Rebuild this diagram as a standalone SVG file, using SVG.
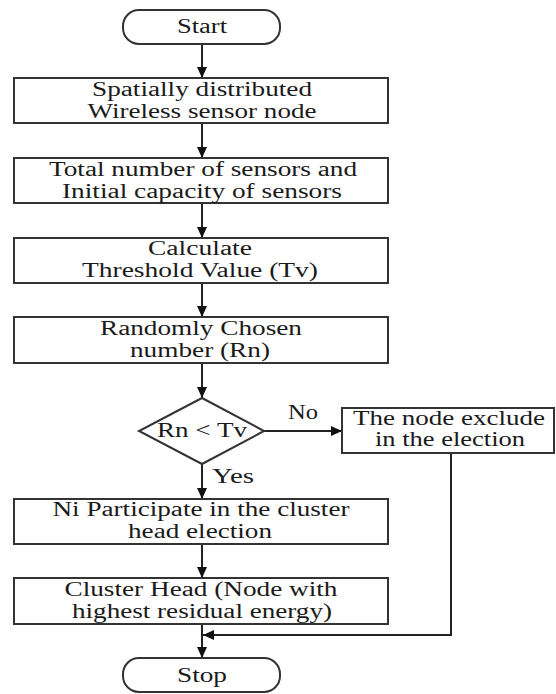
<svg xmlns="http://www.w3.org/2000/svg" width="556" height="694" viewBox="0 0 556 694">
<style>
.box{fill:#fff;stroke:#333;stroke-width:2}
.t{font-family:"Liberation Serif","Times New Roman",serif;font-size:20px;fill:#1a1a1a;text-anchor:middle}
.c{fill:none;stroke:#222;stroke-width:2}
</style>
<defs>
<marker id="ah" markerWidth="11" markerHeight="10" refX="11" refY="5" orient="auto" markerUnits="userSpaceOnUse">
<path d="M0,0 L11,5 L0,10 z" fill="#111"/>
</marker>
</defs>
<rect width="556" height="694" fill="#fff"/>
<g id="connectors">
<line class="c" x1="202" y1="44" x2="202" y2="78" marker-end="url(#ah)"/>
<line class="c" x1="202" y1="123" x2="202" y2="158" marker-end="url(#ah)"/>
<line class="c" x1="202" y1="203" x2="202" y2="238" marker-end="url(#ah)"/>
<line class="c" x1="202" y1="283" x2="202" y2="317" marker-end="url(#ah)"/>
<line class="c" x1="202" y1="363" x2="202" y2="398" marker-end="url(#ah)"/>
<line class="c" x1="202" y1="464" x2="202" y2="499" marker-end="url(#ah)"/>
<line class="c" x1="264" y1="431" x2="342" y2="431" marker-end="url(#ah)"/>
<line class="c" x1="202" y1="544" x2="202" y2="578" marker-end="url(#ah)"/>
<line class="c" x1="202" y1="624" x2="202" y2="658" marker-end="url(#ah)"/>
<polyline class="c" points="451,453 451,635 203,635" marker-end="url(#ah)"/>
<text class="t" x="303" y="419" textLength="30" lengthAdjust="spacingAndGlyphs">No</text>
<text class="t" x="233" y="483" textLength="42" lengthAdjust="spacingAndGlyphs">Yes</text>
</g>
<g id="start">
<rect class="box" x="123" y="10" width="157" height="34" rx="16"/>
<text class="t" x="202" y="33" textLength="50" lengthAdjust="spacingAndGlyphs">Start</text>
</g>
<g id="n1">
<rect class="box" x="14" y="78" width="374" height="45"/>
<text class="t" x="202" y="96" textLength="220" lengthAdjust="spacingAndGlyphs">Spatially distributed</text>
<text class="t" x="202" y="118" textLength="229" lengthAdjust="spacingAndGlyphs">Wireless sensor node</text>
</g>
<g id="n2">
<rect class="box" x="14" y="158" width="374" height="45"/>
<text class="t" x="203" y="176" textLength="308" lengthAdjust="spacingAndGlyphs">Total number of sensors and</text>
<text class="t" x="202" y="198" textLength="280" lengthAdjust="spacingAndGlyphs">Initial capacity of sensors</text>
</g>
<g id="n3">
<rect class="box" x="14" y="238" width="374" height="45"/>
<text class="t" x="200" y="255" textLength="104" lengthAdjust="spacingAndGlyphs">Calculate</text>
<text class="t" x="200" y="277" textLength="236" lengthAdjust="spacingAndGlyphs">Threshold Value (Tv)</text>
</g>
<g id="n4">
<rect class="box" x="14" y="317" width="374" height="46"/>
<text class="t" x="201" y="335" textLength="202" lengthAdjust="spacingAndGlyphs">Randomly Chosen</text>
<text class="t" x="200" y="357" textLength="140" lengthAdjust="spacingAndGlyphs">number (Rn)</text>
</g>
<g id="decision">
<polygon class="box" points="202,398 264,431 202,464 139,431"/>
<text class="t" x="202" y="437" textLength="90" lengthAdjust="spacingAndGlyphs">Rn &lt; Tv</text>
</g>
<g id="exclude">
<rect class="box" x="342" y="408" width="212" height="45"/>
<text class="t" x="449" y="425" textLength="192" lengthAdjust="spacingAndGlyphs">The node exclude</text>
<text class="t" x="450" y="446" textLength="150" lengthAdjust="spacingAndGlyphs">in the election</text>
</g>
<g id="n5">
<rect class="box" x="14" y="499" width="374" height="45"/>
<text class="t" x="201" y="516" textLength="297" lengthAdjust="spacingAndGlyphs">Ni Participate in the cluster</text>
<text class="t" x="200" y="538" textLength="144" lengthAdjust="spacingAndGlyphs">head election</text>
</g>
<g id="n6">
<rect class="box" x="14" y="578" width="374" height="46"/>
<text class="t" x="201" y="596" textLength="273" lengthAdjust="spacingAndGlyphs">Cluster Head (Node with</text>
<text class="t" x="202" y="618" textLength="260" lengthAdjust="spacingAndGlyphs">highest residual energy)</text>
</g>
<g id="stop">
<rect class="box" x="123" y="658" width="157" height="34" rx="16"/>
<text class="t" x="202" y="682" textLength="50" lengthAdjust="spacingAndGlyphs">Stop</text>
</g>
</svg>
